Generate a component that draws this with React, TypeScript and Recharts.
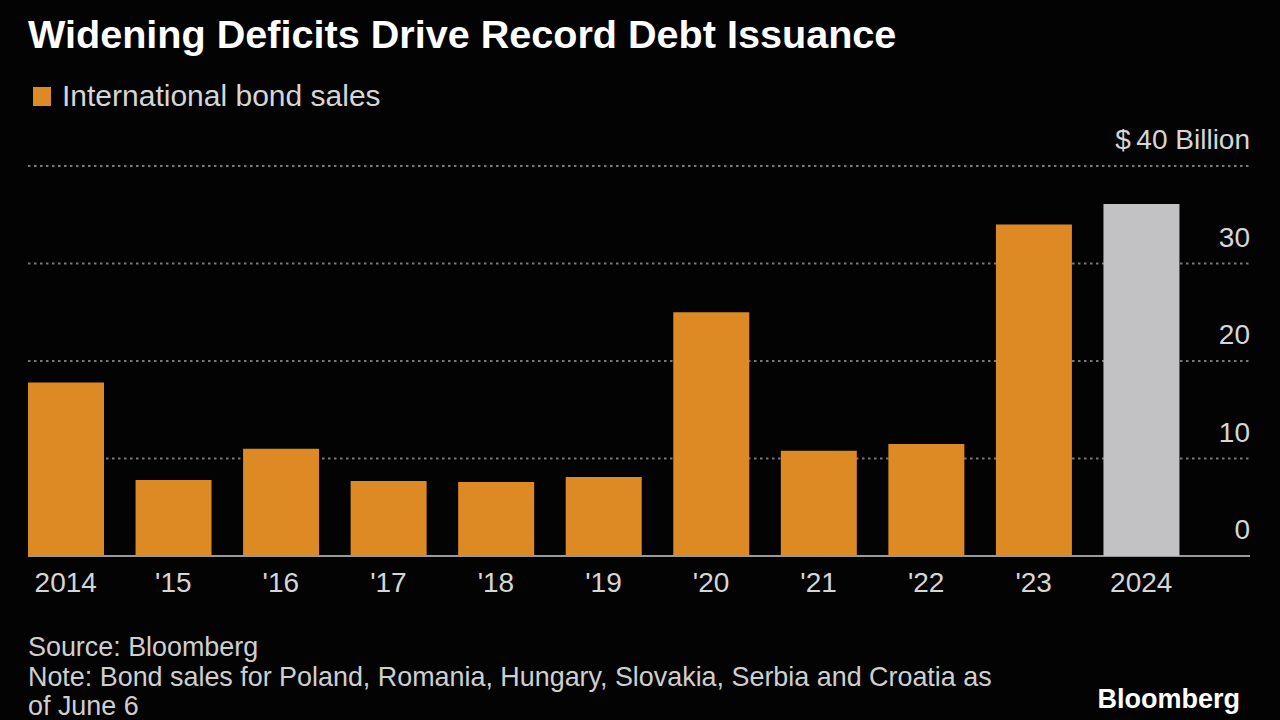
import React from "react"
import {
  BarChart,
  Bar,
  XAxis,
  YAxis,
  CartesianGrid,
  Cell,
} from "recharts"

// Data ($ billion)
const YEARS = ["2014", "'15", "'16", "'17", "'18", "'19", "'20", "'21", "'22", "'23", "2024"]
const BOND_SALES = [17.8, 7.8, 11.0, 7.7, 7.6, 8.1, 25.0, 10.8, 11.5, 34.0, 36.1]
const Y_TICKS = [0, 10, 20, 30, 40]
const HIGHLIGHT_YEAR = "2024"

const ORANGE = "#dd8a25"
const GREY_BAR = "#c2c1c4"
const FONT = "'Liberation Sans', Arial, sans-serif"

// layout
const WIDTH = 1280
const HEIGHT = 720
const MARGIN = { top: 166, right: 30, left: 12, bottom: 104 }
const X_AXIS_H = 60
const BASE_Y = HEIGHT - MARGIN.bottom - X_AXIS_H
const GRID_LEFT = 28

const chartData = YEARS.map((year, i) => ({ year, value: BOND_SALES[i] }))

function GridLine(props: any) {
  const { x2, y1 } = props
  const isBase = Math.abs(y1 - BASE_Y) < 1
  return (
    <line
      x1={GRID_LEFT}
      x2={x2}
      y1={y1}
      y2={y1}
      stroke={isBase ? "#9a9a9a" : "#777777"}
      strokeWidth={2}
      strokeDasharray={isBase ? undefined : "2.5 3.5"}
    />
  )
}

function YTick(props: any) {
  const { x, y, payload } = props
  const label = payload.value === 40 ? "$\u200940 Billion" : String(payload.value)
  return (
    <text
      x={x}
      y={y - 17}
      textAnchor="end"
      fill="#d6d6d6"
      fontSize={28}
      fontFamily={FONT}
    >
      {label}
    </text>
  )
}

function XTick(props: any) {
  const { x, y, payload } = props
  return (
    <text
      x={x}
      y={y + 36}
      textAnchor="middle"
      fill="#d6d6d6"
      fontSize={28}
      fontFamily={FONT}
    >
      {payload.value}
    </text>
  )
}

export default function App() {
  return (
    <div
      style={{
        position: "relative",
        width: WIDTH,
        height: HEIGHT,
        background: "#030303",
        fontFamily: FONT,
        overflow: "hidden",
      }}
    >
      <style>{"body{margin:0;background:#030303}"}</style>

      {/* Title */}
      <div
        style={{
          position: "absolute",
          left: 28,
          top: 11,
          color: "#ffffff",
          fontSize: 39.6,
          fontWeight: "bold",
          lineHeight: "46px",
          whiteSpace: "nowrap",
        }}
      >
        Widening Deficits Drive Record Debt Issuance
      </div>

      {/* Legend */}
      <div
        style={{
          position: "absolute",
          left: 33,
          top: 79,
          display: "flex",
          alignItems: "center",
          color: "#d6d6d6",
          fontSize: 30,
          lineHeight: "34px",
        }}
      >
        <span
          style={{
            display: "inline-block",
            width: 18,
            height: 19,
            background: ORANGE,
            marginRight: 11,
          }}
        />
        International bond sales
      </div>

      <div style={{ position: "absolute", left: 0, top: 0 }}>
        <BarChart width={WIDTH} height={HEIGHT} data={chartData} margin={MARGIN}>
          <CartesianGrid vertical={false} horizontal={GridLine} />
          <XAxis
            dataKey="year"
            axisLine={false}
            tickLine={false}
            tickSize={0}
            tickMargin={0}
            height={X_AXIS_H}
            padding={{ left: 0, right: 55 }}
            tick={XTick}
            interval={0}
          />
          <YAxis
            orientation="right"
            domain={[0, 40]}
            ticks={Y_TICKS}
            axisLine={false}
            tickLine={false}
            tickSize={0}
            tickMargin={0}
            width={MARGIN.right}
            tick={YTick}
            mirror
          />
          <Bar dataKey="value" barSize={76} isAnimationActive={false}>
            {chartData.map((d, i) => (
              <Cell key={`cell-${i}`} fill={d.year === HIGHLIGHT_YEAR ? GREY_BAR : ORANGE} />
            ))}
          </Bar>
        </BarChart>
      </div>

      {/* Footnotes */}
      <div
        style={{
          position: "absolute",
          left: 28,
          top: 633,
          color: "#cfcfcf",
          fontSize: 26.9,
          lineHeight: "29.5px",
          whiteSpace: "nowrap",
        }}
      >
        <div>Source: Bloomberg</div>
        <div>Note: Bond sales for Poland, Romania, Hungary, Slovakia, Serbia and Croatia as</div>
        <div>of June 6</div>
      </div>

      <div
        style={{
          position: "absolute",
          right: 40,
          top: 683,
          color: "#ffffff",
          fontSize: 27,
          fontWeight: "bold",
          lineHeight: "32px",
        }}
      >
        Bloomberg
      </div>
    </div>
  )
}
